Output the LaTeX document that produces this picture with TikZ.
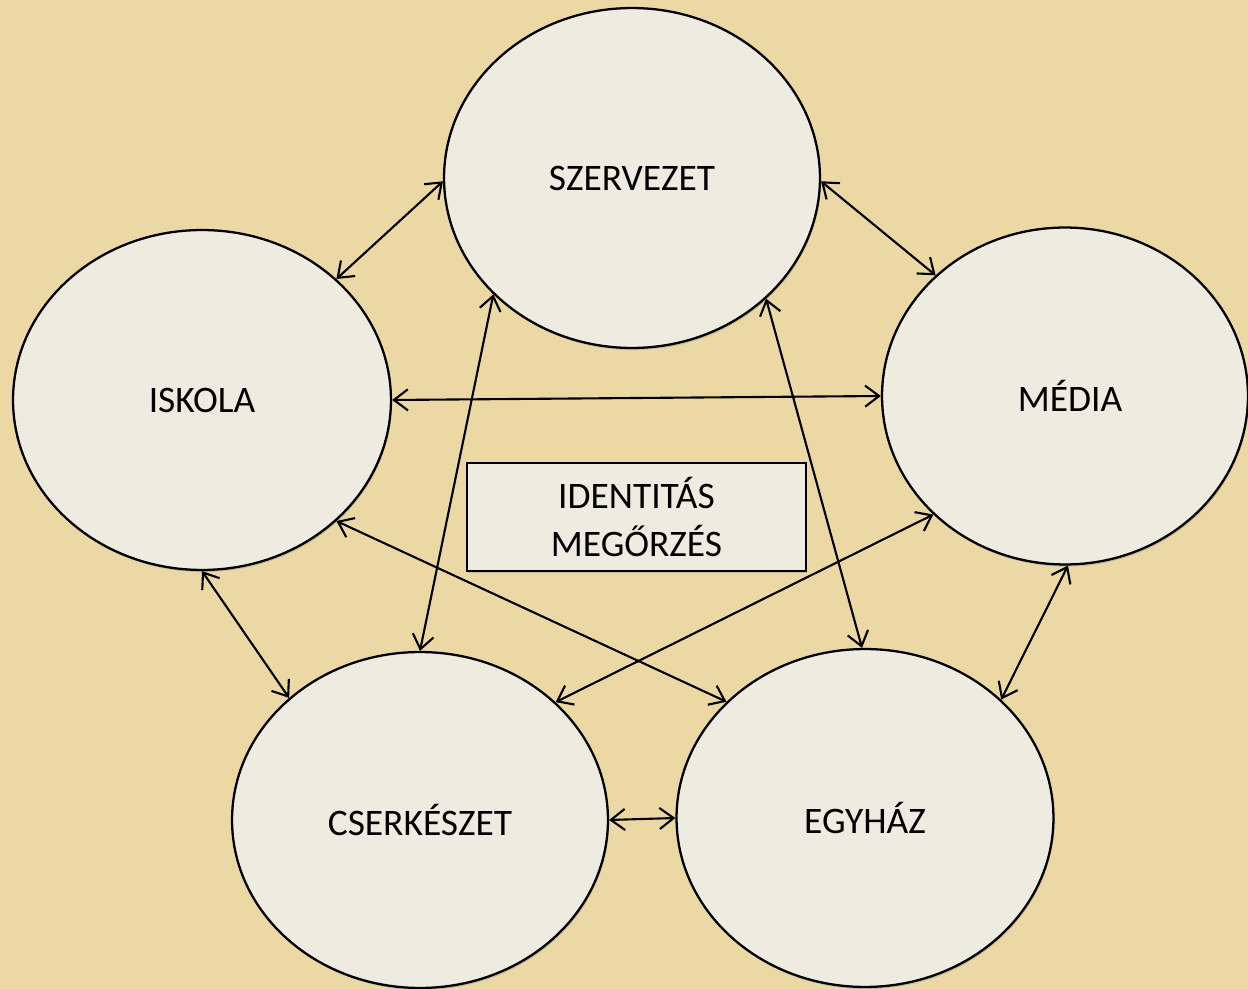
\documentclass[tikz,border=0pt]{standalone}
\usepackage{fontspec}
\setmainfont{Carlito}
\usetikzlibrary{shapes.geometric,arrows.meta,shadows}
\definecolor{paper}{HTML}{ECD8A5}
\definecolor{bubble}{HTML}{EEECE1}
\tikzset{
  bub/.style={ellipse, draw=black, line width=1.3pt, fill=bubble, inner sep=0pt,
    drop shadow={shadow xshift=0.6pt, shadow yshift=-1.2pt, opacity=0.35},
    font=\fontsize{21.3}{26}\selectfont},
  idbox/.style={rectangle, draw=black, line width=1.2pt, fill=bubble, inner sep=0pt,
    minimum width=6.78cm, minimum height=2.16cm, align=center,
    drop shadow={shadow xshift=0.6pt, shadow yshift=-1.2pt, opacity=0.35},
    font=\fontsize{21.3}{25.5}\selectfont},
  link/.style={line width=1.2pt, {Straight Barb[length=8pt,width=12pt]}-{Straight Barb[length=8pt,width=12pt]}}
}
\begin{document}
\begin{tikzpicture}[x=0.02cm,y=-0.02cm]
\useasboundingbox (0,0) rectangle (1248,989);
\fill[paper] (0,0) rectangle (1248,989);
\node[bub, minimum width=7.52cm, minimum height=6.8cm] (sz) at (632,178) {SZERVEZET};
\node[bub, minimum width=7.56cm, minimum height=6.8cm] (is) at (202,400) {ISKOLA};
\node[bub, minimum width=7.32cm, minimum height=6.74cm, text depth=0pt] (me) at (1065,396) {\hspace*{0.2cm}MÉDIA};
\node[bub, minimum width=7.52cm, minimum height=6.72cm] (cs) at (420,820) {CSERKÉSZET};
\node[bub, minimum width=7.54cm, minimum height=6.76cm] (eg) at (865,818) {EGYHÁZ};
\node[idbox] (id) at (636.5,517) {\raisebox{0.08cm}{IDENTITÁS}\\MEGŐRZÉS};
\draw[link] (sz.181) -- (is.42);
\draw[link] (sz.-1) -- (me.137);
\draw[link] (is.east) -- (me.west);
\draw[link] (sz.220.6) -- (cs.north);
\draw[link] (sz.318.6) -- (eg.91);
\draw[link] (is.318.6) -- (eg.140.1);
\draw[link] (me.222.9) -- (cs.41.3);
\draw[link] (is.south) -- (cs.137.5);
\draw[link] (me.271) -- (eg.41.8);
\draw[link] (cs.east) -- (eg.west);
\end{tikzpicture}
\end{document}
